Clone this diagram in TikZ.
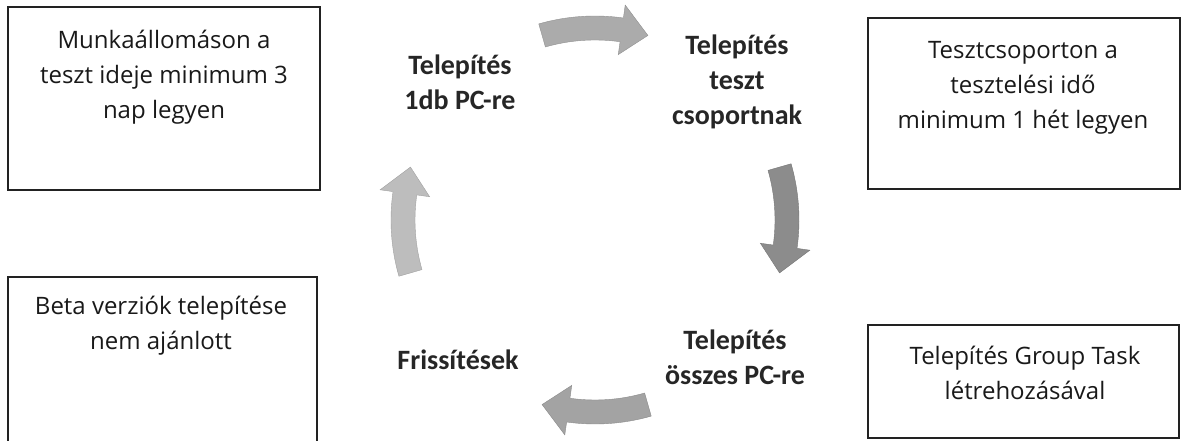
\documentclass[tikz,border=0pt]{standalone}
\usepackage{fontspec}
\setmainfont{Open Sans}
\newfontfamily\labfont{Carlito}
\usetikzlibrary{calc}
\definecolor{arrA}{HTML}{ABABAB}
\definecolor{arrB}{HTML}{8C8C8C}
\definecolor{arrC}{HTML}{A3A3A3}
\definecolor{arrD}{HTML}{BDBDBD}
\definecolor{boxline}{HTML}{222222}
\tikzset{
  infobox/.style={draw=boxline, line width=1.1pt, fill=none, inner sep=0pt},
  infotext/.style={align=center, text=black!90, font=\fontsize{24}{35}\selectfont, inner sep=0pt},
  steplabel/.style={align=center, text=black!85, font=\labfont\bfseries\fontsize{28}{35}\selectfont, inner sep=0pt},
  cyclefill/.style={line width=0.4pt},
}
\newcommand\cycarrow[2]{%
  \path[cyclefill, fill=#2, draw=#2!85!black]
    ($(C)+({#1+16}:{\R+\w})$) arc[start angle={#1+16}, end angle={#1-8}, radius={\R+\w}]
    -- ($(C)+({#1-8}:{\R+\hw})$)
    -- ($(C)+({#1-16}:{\R})$)
    -- ($(C)+({#1-8}:{\R-\hw})$)
    -- ($(C)+({#1-8}:{\R-\w})$)
    arc[start angle={#1-8}, end angle={#1+16}, radius={\R-\w}]
    -- cycle;}
\begin{document}
\begin{tikzpicture}[x=1pt,y=1pt]
\useasboundingbox (0,0) rectangle (1182,441);
\clip (0,0) rectangle (1182,441);
\def\R{192}\def\w{12}\def\hw{25}
\coordinate (C) at (595,221);
% boxes
\node[infobox, minimum width=312pt, minimum height=183pt] (tlbox) at (164,342.5) {};
\node[infobox, minimum width=312pt, minimum height=171pt] (trbox) at (1024,337.5) {};
\node[infobox, minimum width=309pt, minimum height=190pt] (blbox) at (162.5,69) {};
\node[infobox, minimum width=311pt, minimum height=113pt] (brbox) at (1023.5,59.5) {};
% box texts
\node[infotext] (tltext) at (164,364) {Munkaállomáson a\\teszt ideje minimum 3\\nap legyen};
\node[infotext] (trtext) at (1023,353) {Tesztcsoporton a\\tesztelési idő\\minimum 1 hét legyen};
\node[infotext] (bltext) at (161,115) {Beta verziók telepítése\\nem ajánlott};
\node[infotext] (brtext) at (1025,68) {Telepítés Group Task\\létrehozásával};
% step labels
\node[steplabel] (s1) at (460,359) {Telepítés\\1db PC-re};
\node[steplabel] (s2) at (737,359) {Telepítés\\teszt\\csoportnak};
\node[steplabel] (s3) at (735,84) {Telepítés\\összes PC-re};
\node[steplabel] (s4) at (458,81) {Frissítések};
% cycle arrows
\cycarrow{90}{arrA}
\cycarrow{0}{arrB}
\cycarrow{-90}{arrC}
\cycarrow{180}{arrD}
\end{tikzpicture}
\end{document}
